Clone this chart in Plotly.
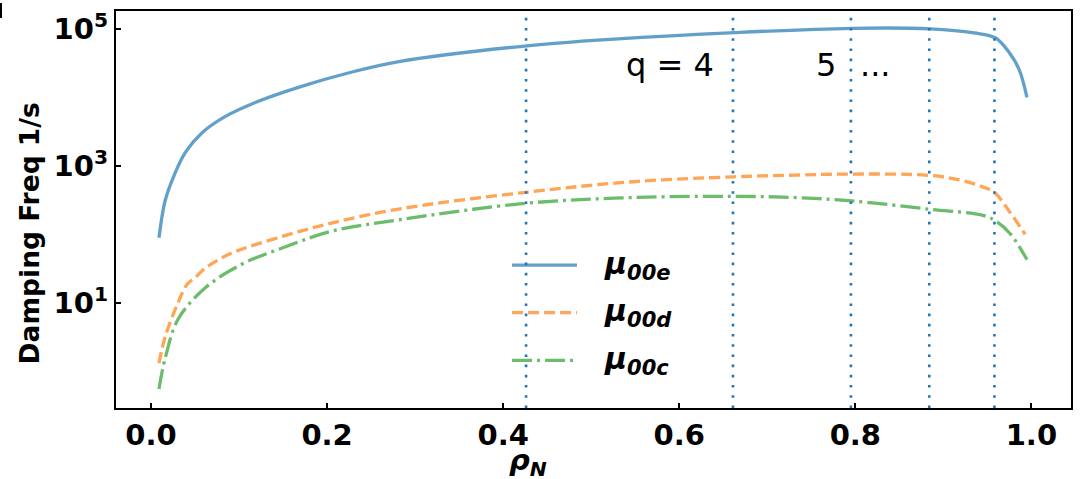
import plotly.graph_objects as go

# Normalised radius samples and damping frequencies (1/s) for each mode
rho_e = [0.009, 0.016, 0.026, 0.039, 0.058, 0.085, 0.122, 0.171, 0.224, 0.283,
         0.427, 0.526, 0.663, 0.796, 0.885, 0.935, 0.959, 0.975, 0.986, 0.995]
mu_00e = [89, 309, 716, 1570, 3050, 5320, 8790, 14500, 22700, 33500,
          56600, 70800, 88300, 102000, 100000, 87100, 74100, 44700, 25700, 10000]

rho_d = [0.009, 0.016, 0.030, 0.041, 0.050, 0.062, 0.077, 0.092, 0.149, 0.205,
         0.283, 0.426, 0.547, 0.662, 0.733, 0.796, 0.885, 0.920, 0.944, 0.959,
         0.975, 0.993]
mu_00d = [1.31, 3.16, 9.6, 18.6, 23.3, 32.4, 42.7, 53.7, 93.3, 146,
          236, 411, 586, 692, 733, 759, 724, 617, 497, 398,
          216, 100]

rho_c = [0.009, 0.016, 0.031, 0.062, 0.103, 0.149, 0.205, 0.283, 0.426, 0.547,
         0.662, 0.733, 0.796, 0.885, 0.944, 0.959, 0.976, 0.995]
mu_00c = [0.55, 1.54, 5.85, 16.7, 36.6, 63.1, 111, 164, 284, 344,
          359, 344, 308, 232, 191, 158, 102, 42.7]

# Rational-surface locations (q = 4, 5, ...)
q_surfaces = [0.426, 0.661, 0.795, 0.884, 0.958]
q_labels = ["q = 4", "5", "..."]
q_label_rho = [0.589, 0.767, 0.823]

x_ticks = [0.0, 0.2, 0.4, 0.6, 0.8, 1.0]
y_ticks = [1e1, 1e3, 1e5]
y_tick_text = ["<b>10<sup>1</sup></b>", "<b>10<sup>3</sup></b>", "<b>10<sup>5</sup></b>"]

series = [
    (rho_e, mu_00e, "<b><i>μ<sub>00e</sub></i></b>", "rgba(31,119,180,0.7)", "solid"),
    (rho_d, mu_00d, "<b><i>μ<sub>00d</sub></i></b>", "rgba(255,127,14,0.7)", "11px,5px"),
    (rho_c, mu_00c, "<b><i>μ<sub>00c</sub></i></b>", "rgba(44,160,44,0.7)", "20px,5px,3px,5px"),
]

FONT = "DejaVu Sans"
fig = go.Figure()

for xs, ys, name, color, dash in series:
    fig.add_trace(go.Scatter(
        x=xs, y=ys, mode="lines", name=name, showlegend=False,
        line=dict(color=color, width=3.3, dash=dash, shape="spline", smoothing=1.0),
    ))

# Dotted markers at the rational surfaces
for r in q_surfaces:
    fig.add_shape(type="line", xref="x", yref="paper", x0=r, x1=r, y0=0, y1=1,
                  line=dict(color="#1f77b4", width=2.6, dash="2.6px,7.6px"))

for txt, r in zip(q_labels, q_label_rho):
    fig.add_annotation(x=r, y=4.478, xref="x", yref="y", text=txt, showarrow=False,
                       font=dict(family=FONT, size=32, color="black"),
                       xanchor="center", yanchor="middle")

# Hand-drawn legend with long line samples
legend_y = [0.36, 0.24, 0.12]
for (xs, ys, name, color, dash), ly in zip(series, legend_y):
    fig.add_shape(type="line", xref="paper", yref="paper", x0=0.4147, x1=0.4827,
                  y0=ly, y1=ly, line=dict(color=color, width=3.3, dash=dash))
    fig.add_annotation(x=0.509, y=ly, xref="paper", yref="paper", text=name,
                       showarrow=False, xanchor="left", yanchor="middle",
                       font=dict(family=FONT, size=30, color="black"))

# Axis titles
fig.add_annotation(x=0.431, y=-0.136, xref="paper", yref="paper",
                   text="<b><i>ρ<sub>N</sub></i></b>", showarrow=False,
                   xanchor="center", yanchor="middle",
                   font=dict(family=FONT, size=29, color="black"))
fig.add_annotation(x=-0.091, y=0.44, xref="paper", yref="paper",
                   text="<b>Damping Freq 1/s</b>", showarrow=False, textangle=-90,
                   xanchor="center", yanchor="middle",
                   font=dict(family=FONT, size=26.5, color="black"))

# Edge of a neighbouring panel at the top-left
fig.add_shape(type="line", xref="paper", yref="paper", x0=-0.1204, x1=-0.1204,
              y0=1.02, y1=0.9825, line=dict(color="black", width=2))

fig.update_xaxes(
    range=[-0.0398, 1.045], tickvals=x_ticks, tickformat=".1f",
    ticks="inside", ticklen=5, tickwidth=1.5, tickcolor="black",
    showline=True, linecolor="black", linewidth=2.4, mirror=True,
    showgrid=False, zeroline=False,
    tickfont=dict(family=FONT, size=29, color="black", weight="bold"),
)
fig.update_yaxes(
    type="log", range=[-0.536, 5.261], tickvals=y_ticks, ticktext=y_tick_text,
    ticks="inside", ticklen=5, tickwidth=1.5, tickcolor="black",
    showline=True, linecolor="black", linewidth=2.4, mirror=True,
    showgrid=False, zeroline=False,
    tickfont=dict(family=FONT, size=29, color="black"),
)

fig.update_layout(
    width=1081, height=479,
    margin=dict(l=116, r=10, t=8, b=71),
    plot_bgcolor="white", paper_bgcolor="white",
    showlegend=False,
    font=dict(family=FONT, color="black"),
)

fig.write_html("out.html")
